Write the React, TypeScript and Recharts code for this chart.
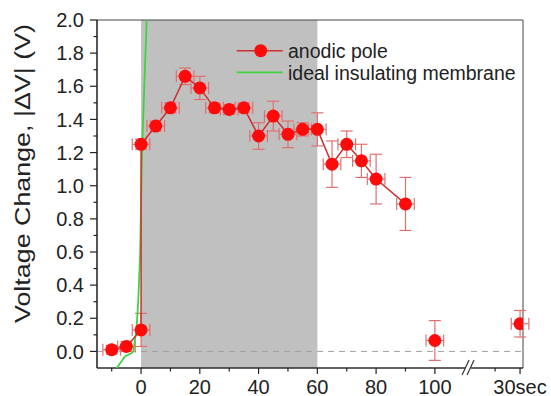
import React from "react";
import {
	ComposedChart,
	Scatter,
	ErrorBar,
	XAxis,
	YAxis,
	ReferenceArea,
	ReferenceLine,
	ReferenceDot,
} from "recharts";

// anodic pole, connected part
const X_MAIN = [-10, -5, 0, 0, 5, 10, 15, 20, 25, 30, 35, 40, 45, 50, 55, 60, 65, 70, 75, 80, 90];
const Y_MAIN = [0.01, 0.03, 0.13, 1.25, 1.36, 1.47, 1.66, 1.59, 1.47, 1.46, 1.47, 1.3, 1.42, 1.31, 1.34, 1.34, 1.13, 1.25, 1.15, 1.04, 0.89];
const EY_MAIN = [0.025, 0.03, 0.1, 0.03, 0.03, 0.03, 0.05, 0.07, 0.03, 0.03, 0.03, 0.08, 0.09, 0.08, 0.04, 0.1, 0.14, 0.08, 0.1, 0.15, 0.16];
const EX_MAIN = [3, 3, 3, 3, 3, 3, 3, 3, 3, 3, 3, 3, 3, 3, 3, 3, 3, 3, 3, 3, 3];

// anodic pole, loose points (100 s and "30sec" after the break)
const X_TAIL = [100, 129];
const Y_TAIL = [0.066, 0.167];
const EY_TAIL = [0.12, 0.08];
const EX_TAIL = [3, 3];

// ideal insulating membrane
const X_IDEAL = [-8.3, -5.5, -3.2, -2.6, -1.5, -0.95, -0.3, 0.1, 0.5, 1.1, 1.9];
const Y_IDEAL = [-0.1, -0.03, -0.01, 0.0, 0.15, 0.31, 0.6, 1.0, 1.3, 1.6, 2.0];

const Y_TICKS = [0, 0.1, 0.2, 0.3, 0.4, 0.5, 0.6, 0.7, 0.8, 0.9, 1.0, 1.1, 1.2, 1.3, 1.4, 1.5, 1.6, 1.7, 1.8, 1.9, 2.0];
const Y_LABELS = ["0.0", "", "0.2", "", "0.4", "", "0.6", "", "0.8", "", "1.0", "", "1.2", "", "1.4", "", "1.6", "", "1.8", "", "2.0"];
const X_TICKS = [-10, 0, 10, 20, 30, 40, 50, 60, 70, 80, 90, 100, 120.5, 129];
const X_LABELS = ["", "0", "", "20", "", "40", "", "60", "", "80", "", "100", "", "30sec"];

const FONT = "'Liberation Sans', Arial, sans-serif";
const RED = "#ff0a0a";
const LINE_RED = "#cc3030";
const ERR_RED = "#e07070";
const GREEN = "#3fd43f";

const mainData = X_MAIN.map((x, i) => ({ x, y: Y_MAIN[i], ex: EX_MAIN[i], ey: EY_MAIN[i] }));
const tailData = X_TAIL.map((x, i) => ({ x, y: Y_TAIL[i], ex: EX_TAIL[i], ey: EY_TAIL[i] }));
const idealData = X_IDEAL.map((x, i) => ({ x, y: Y_IDEAL[i] }));

const Dot = (props: any) => <circle cx={props.cx} cy={props.cy} r={6.5} fill={RED} />;
const NoDot = () => <g />;

const YTick = (props: any) => {
	const { x, y, payload } = props;
	const idx = Y_TICKS.indexOf(payload.value);
	const label = Y_LABELS[idx] || "";
	return (
		<g>
			<line x1={x} x2={x - (label ? 7 : 3.5)} y1={y} y2={y} stroke="#222" strokeWidth={1.2} />
			{label && (
				<text x={x - 13} y={y} dy="0.36em" textAnchor="end" fontSize={20} fill="#222" fontFamily={FONT}>
					{label}
				</text>
			)}
		</g>
	);
};

const XTick = (props: any) => {
	const { x, y, payload } = props;
	const idx = X_TICKS.indexOf(payload.value);
	const label = X_LABELS[idx] || "";
	const major = label !== "";
	return (
		<g>
			<line x1={x} x2={x} y1={y} y2={y + (major ? 6 : 3.5)} stroke="#222" strokeWidth={1.2} />
			{label && (
				<text x={x} y={y + 25.5} textAnchor="middle" fontSize={20} fill="#222" fontFamily={FONT}>
					{label}
				</text>
			)}
		</g>
	);
};

const AxisBreak = (props: any) => {
	const { cx, cy } = props;
	return (
		<g>
			<rect x={cx - 3} y={cy - 3} width={6} height={6} fill="#fff" />
			<line x1={cx - 6} y1={cy + 7} x2={cx + 1} y2={cy - 8} stroke="#333" strokeWidth={1.2} />
			<line x1={cx - 1} y1={cy + 7} x2={cx + 6} y2={cy - 8} stroke="#333" strokeWidth={1.2} />
		</g>
	);
};

export default function App() {
	return (
		<div style={{ position: "absolute", left: 0, top: 0, width: 551, height: 396, background: "#fff" }}>
			<ComposedChart width={551} height={396} margin={{ top: 20, right: 28, bottom: 0, left: 0 }}>
				<XAxis
					type="number"
					dataKey="x"
					domain={[-15, 130]}
					allowDataOverflow
					ticks={X_TICKS}
					interval={0}
					tick={<XTick />}
					tickLine={false}
					tickSize={0}
					tickMargin={0}
					height={28}
					axisLine={{ stroke: "#222", strokeWidth: 1.2 }}
				/>
				<YAxis
					type="number"
					dataKey="y"
					domain={[-0.1, 2.0]}
					allowDataOverflow
					ticks={Y_TICKS}
					interval={0}
					tick={<YTick />}
					tickLine={false}
					tickSize={0}
					tickMargin={0}
					width={97}
					axisLine={{ stroke: "#222", strokeWidth: 1.2 }}
					label={
						<text
							x={29}
							y={193}
							transform="rotate(-90 29 193)"
							textAnchor="middle"
							fontSize={22}
							fill="#222"
							fontFamily={FONT}
							textLength={299}
							lengthAdjust="spacingAndGlyphs"
						>
							Voltage Change, |ΔV| (V)
						</text>
					}
				/>
				<ReferenceArea x1={0} x2={60} y1={-0.1} y2={2.0} fill="#c0c0c0" fillOpacity={1} stroke="none" />
				<ReferenceArea x1={-15} x2={130} y1={-0.1} y2={2.0} fill="none" stroke="#444" strokeWidth={1} />
				<ReferenceLine y={0} stroke="#a0a0a0" strokeDasharray="6 5" strokeWidth={1} />
				<Scatter
					data={idealData}
					line={{ stroke: GREEN, strokeWidth: 1.8 }}
					lineType="joint"
					shape={<NoDot />}
					isAnimationActive={false}
				/>
				<Scatter
					data={mainData}
					line={{ stroke: LINE_RED, strokeWidth: 1.5 }}
					lineType="joint"
					shape={<Dot />}
					isAnimationActive={false}
				>
					<ErrorBar dataKey="ey" direction="y" width={6} stroke={ERR_RED} strokeWidth={1.2} isAnimationActive={false} />
					<ErrorBar dataKey="ex" direction="x" width={6} stroke={ERR_RED} strokeWidth={1.2} isAnimationActive={false} />
				</Scatter>
				<Scatter data={tailData} shape={<Dot />} isAnimationActive={false}>
					<ErrorBar dataKey="ey" direction="y" width={6} stroke={ERR_RED} strokeWidth={1.2} isAnimationActive={false} />
					<ErrorBar dataKey="ex" direction="x" width={6} stroke={ERR_RED} strokeWidth={1.2} isAnimationActive={false} />
				</Scatter>
				<ReferenceDot x={111.3} y={-0.1} ifOverflow="visible" shape={<AxisBreak />} />
			</ComposedChart>
			<svg width={300} height={100} style={{ position: "absolute", left: 230, top: 30 }}>
				<line x1={6.7} x2={52.7} y1={20.7} y2={20.7} stroke={LINE_RED} strokeWidth={1.5} />
				<circle cx={30.7} cy={20.7} r={6.5} fill={RED} />
				<text x={58} y={27.5} fontSize={19.5} fill="#222" fontFamily={FONT}>
					anodic pole
				</text>
				<line x1={6.7} x2={52.7} y1={42.3} y2={42.3} stroke={GREEN} strokeWidth={1.8} />
				<text x={58} y={49.5} fontSize={19.5} fill="#222" fontFamily={FONT}>
					ideal insulating membrane
				</text>
			</svg>
		</div>
	);
}
